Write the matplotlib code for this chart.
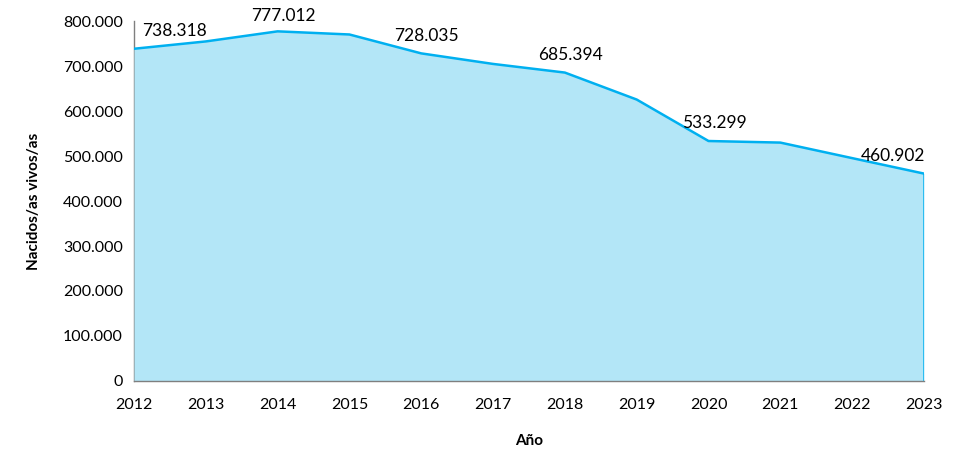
import matplotlib
matplotlib.use("Agg")
import matplotlib.pyplot as plt
from matplotlib.ticker import FuncFormatter

years = [2012, 2013, 2014, 2015, 2016, 2017, 2018, 2019, 2020, 2021, 2022, 2023]
births = [738318, 754603, 777012, 770040, 728035, 704609, 685394, 625441, 533299, 529794, 495295, 460902]
labeled_years = [2012, 2014, 2016, 2018, 2020, 2023]
y_ticks = [0, 100000, 200000, 300000, 400000, 500000, 600000, 700000, 800000]

plt.rcParams['font.family'] = ['Lato', 'DejaVu Sans']

fig = plt.figure(figsize=(9.66, 4.72), dpi=100)
ax = fig.add_axes([0.1387, 0.1928, 0.8178, 0.7627])

line_col = '#00B0F0'
fill_col = '#B3E6F7'
ax.fill_between(years, births, 0, color=fill_col, linewidth=0)
ax.plot(years, births, color=line_col, linewidth=1.8)
ax.plot([years[-1], years[-1]], [0, births[-1]], color=line_col, linewidth=1.8)

ax.set_xlim(years[0], years[-1])
ax.set_ylim(0, 800000)
ax.set_xticks(years)
ax.set_yticks(y_ticks)

def fmt(v, pos=None):
    return f"{int(round(v)):,}".replace(",", ".")

ax.yaxis.set_major_formatter(FuncFormatter(fmt))
ax.tick_params(axis='both', length=0, labelsize=11.5, colors='black', pad=8)
ax.tick_params(axis='x', pad=12)

for s in ['top', 'right']:
    ax.spines[s].set_visible(False)
for s in ['left', 'bottom']:
    ax.spines[s].set_color('#7F7F7F')
    ax.spines[s].set_linewidth(1.0)
ax.spines['left'].set_zorder(0)

for yr, v in zip(years, births):
    if yr in labeled_years:
        if yr == years[0]:
            ha, dx = 'left', 6
        elif yr == years[-1]:
            ha, dx = 'right', 1
        else:
            ha, dx = 'center', 4
        dy = 5 if yr == 2014 else 7
        ax.annotate(fmt(v), (yr, v), xytext=(dx, dy), textcoords='offset points',
                    ha=ha, va='bottom', fontsize=12.5, color='black', annotation_clip=False)

ax.set_xlabel('Año', fontsize=11, fontweight='bold', labelpad=16)
ax.set_ylabel('Nacidos/as vivos/as', fontsize=11, fontweight='bold', labelpad=16)

fig.savefig('out.png', dpi=100)
